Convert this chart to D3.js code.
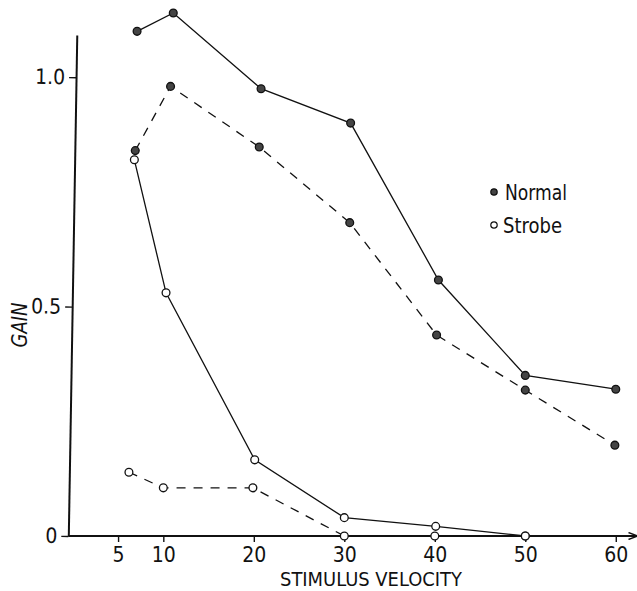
<!DOCTYPE html>
<html>
<head>
<meta charset="utf-8">
<script src="https://cdn.jsdelivr.net/npm/d3@7"></script>
<style>
  body { margin: 0; background: #fff; }
  svg text { font-family: "Liberation Sans Narrow", "DejaVu Sans Condensed", "Liberation Sans", sans-serif; font-stretch: condensed; fill: #111; }
</style>
</head>
<body>
<div id="chart"></div>
<script>
// Normal, upper (solid) curve
const normalSolidVel = [7.1, 11.1, 20.8, 30.7, 40.4, 50, 60];
const normalSolidGain = [1.10, 1.14, 0.975, 0.90, 0.558, 0.35, 0.32];
// Normal, dashed curve
const normalDashVel = [6.9, 10.8, 20.6, 30.6, 40.2, 50, 59.9];
const normalDashGain = [0.84, 0.98, 0.848, 0.683, 0.438, 0.318, 0.198];
// Strobe, solid curve
const strobeSolidVel = [6.8, 10.3, 20.1, 30, 40.1, 50];
const strobeSolidGain = [0.82, 0.53, 0.166, 0.04, 0.021, 0];
// Strobe, dashed curve
const strobeDashVel = [6.2, 10, 19.9, 30, 40, 50];
const strobeDashGain = [0.139, 0.105, 0.105, 0, 0, 0];

const xTicks = [5, 10, 20, 30, 40, 50, 60];
const yTicks = [0, 0.5, 1.0];
const legendItems = ["Normal", "Strobe"];

function drawChart() {
    const width = 637;
    const height = 591;

    const svg = d3.select("#chart")
        .append("svg")
        .attr("width", width)
        .attr("height", height);

    const xScale = d3.scaleLinear()
        .domain([-0.5, 62.5])
        .range([68.3, 638.4]);

    const yScale = d3.scaleLinear()
        .domain([0, 1.092])
        .range([536, 35]);

    // arrow head for the velocity axis
    svg.append("defs").append("marker")
        .attr("id", "arrow")
        .attr("markerUnits", "userSpaceOnUse")
        .attr("markerWidth", 10)
        .attr("markerHeight", 8)
        .attr("refX", 9)
        .attr("refY", 4)
        .attr("orient", "auto")
        .append("path")
        .attr("d", "M0,0.5 L9,4 L0,7.5")
        .attr("fill", "none")
        .attr("stroke", "#111")
        .attr("stroke-width", 1.4);

    // x axis
    const xAxis = svg.append("g")
        .attr("transform", `translate(0,${yScale(0)})`)
        .call(d3.axisBottom(xScale)
            .tickValues(xTicks)
            .tickSize(6)
            .tickSizeOuter(0)
            .tickPadding(5));
    xAxis.select(".domain").remove();
    xAxis.append("line")
        .attr("x1", xScale(-0.5))
        .attr("x2", xScale(62.4))
        .attr("stroke", "#111")
        .attr("stroke-width", 2)
        .attr("marker-end", "url(#arrow)");
    xAxis.selectAll(".tick line").attr("stroke", "#111").attr("stroke-width", 1.4);
    xAxis.selectAll(".tick text").attr("font-size", 21).attr("fill", "#111");

    // y axis (hand drawn, leans slightly)
    const yAxis = svg.append("g")
        .attr("transform", `rotate(0.97,${xScale(-0.5)},${yScale(0)}) translate(${xScale(-0.5)},0)`)
        .call(d3.axisLeft(yScale)
            .tickValues(yTicks)
            .tickFormat(d => d === 0 ? "0" : d.toFixed(1))
            .tickSize(7)
            .tickSizeOuter(0)
            .tickPadding(4));
    yAxis.select(".domain").attr("stroke", "#111").attr("stroke-width", 2);
    yAxis.selectAll(".tick line").attr("stroke", "#111").attr("stroke-width", 1.4);
    yAxis.selectAll(".tick text").attr("font-size", 21).attr("fill", "#111");

    // axis titles
    svg.append("text")
        .attr("x", 371)
        .attr("y", 586)
        .attr("text-anchor", "middle")
        .attr("font-size", 20)
        .attr("textLength", 182)
        .attr("lengthAdjust", "spacingAndGlyphs")
        .text("STIMULUS VELOCITY");

    svg.append("text")
        .attr("transform", "translate(27,325) rotate(-90)")
        .attr("text-anchor", "middle")
        .attr("font-size", 21)
        .attr("font-style", "italic")
        .attr("textLength", 45)
        .attr("lengthAdjust", "spacingAndGlyphs")
        .text("GAIN");

    const series = [
        { vel: normalSolidVel, gain: normalSolidGain, dash: null, filled: true },
        { vel: normalDashVel, gain: normalDashGain, dash: "9,8", filled: true },
        { vel: strobeSolidVel, gain: strobeSolidGain, dash: null, filled: false },
        { vel: strobeDashVel, gain: strobeDashGain, dash: "9,8", filled: false }
    ];

    const line = d3.line()
        .x(d => xScale(d[0]))
        .y(d => yScale(d[1]));

    series.forEach(s => {
        const pts = s.vel.map((v, i) => [v, s.gain[i]]);
        svg.append("path")
            .datum(pts)
            .attr("d", line)
            .attr("fill", "none")
            .attr("stroke", "#111")
            .attr("stroke-width", 1.3)
            .attr("stroke-dasharray", s.dash);
    });

    // markers on top
    series.forEach(s => {
        const pts = s.vel.map((v, i) => [v, s.gain[i]]);
        svg.selectAll(null)
            .data(pts)
            .enter()
            .append("circle")
            .attr("cx", d => xScale(d[0]))
            .attr("cy", d => yScale(d[1]))
            .attr("r", 3.9)
            .attr("fill", s.filled ? "#444" : "#fff")
            .attr("stroke", "#111")
            .attr("stroke-width", 1.3);
    });

    // legend
    const legendWidths = [62, 59];
    const legend = svg.selectAll(".legend")
        .data(legendItems)
        .enter()
        .append("g")
        .attr("class", "legend")
        .attr("transform", (d, i) => `translate(494,${192 + i * 33})`);

    legend.append("circle")
        .attr("r", 3.2)
        .attr("fill", (d, i) => i === 0 ? "#444" : "#fff")
        .attr("stroke", "#111")
        .attr("stroke-width", 1.2);

    legend.append("text")
        .attr("x", (d, i) => i === 0 ? 11 : 9)
        .attr("y", 7.5)
        .attr("font-size", 21)
        .attr("textLength", (d, i) => legendWidths[i])
        .attr("lengthAdjust", "spacingAndGlyphs")
        .text(d => d);
}

document.addEventListener('DOMContentLoaded', drawChart);
</script>
</body>
</html>
